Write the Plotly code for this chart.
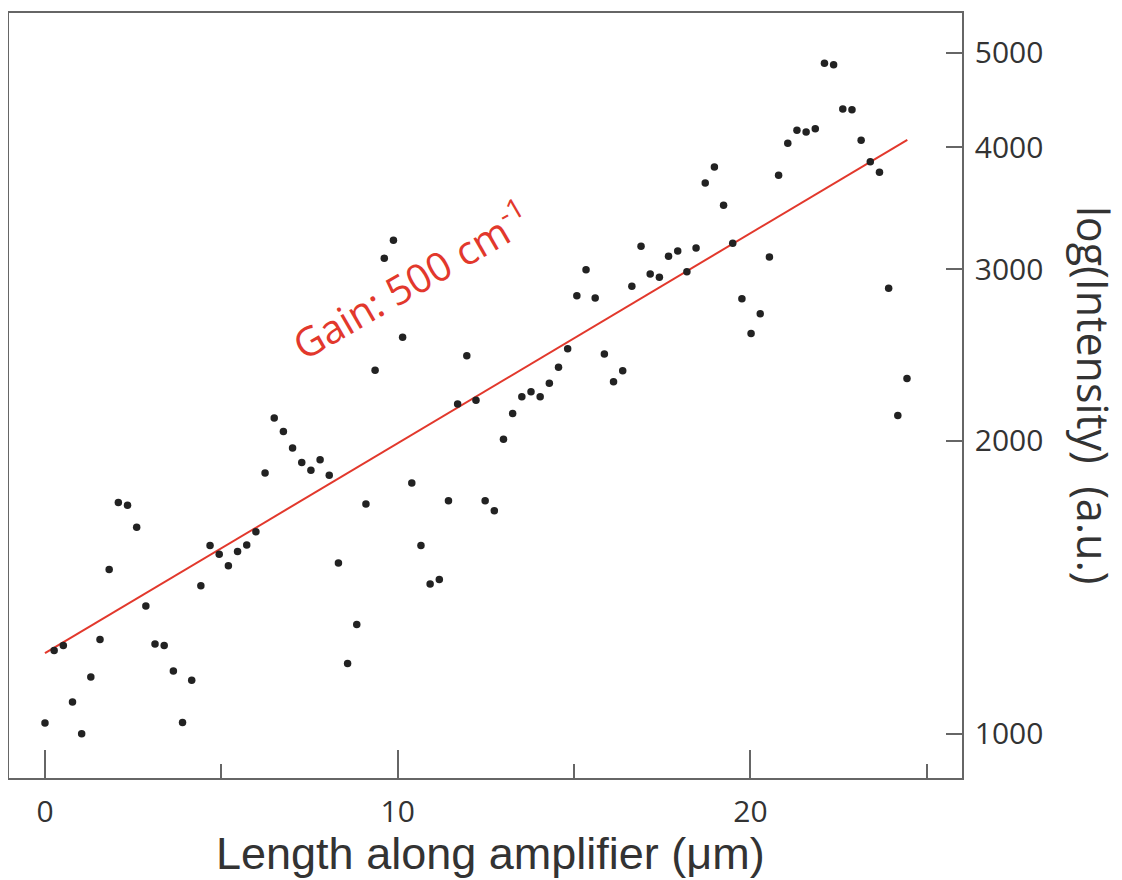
import plotly.graph_objects as go

# Position along amplifier (µm)
length_um = [0.00, 0.26, 0.52, 0.78, 1.04, 1.30, 1.56, 1.82, 2.08, 2.34,
             2.60, 2.86, 3.12, 3.38, 3.64, 3.90, 4.16, 4.42, 4.68, 4.94,
             5.20, 5.46, 5.72, 5.98, 6.24, 6.50, 6.76, 7.02, 7.28, 7.54,
             7.80, 8.06, 8.32, 8.58, 8.84, 9.10, 9.36, 9.62, 9.88, 10.14,
             10.40, 10.66, 10.92, 11.18, 11.44, 11.70, 11.96, 12.22, 12.48, 12.74,
             13.00, 13.26, 13.52, 13.78, 14.04, 14.30, 14.56, 14.82, 15.08, 15.34,
             15.60, 15.86, 16.12, 16.38, 16.64, 16.90, 17.16, 17.42, 17.68, 17.94,
             18.20, 18.46, 18.72, 18.98, 19.24, 19.50, 19.76, 20.02, 20.28, 20.54,
             20.80, 21.06, 21.32, 21.58, 21.84, 22.10, 22.36, 22.62, 22.88, 23.14,
             23.40, 23.66, 23.92, 24.18, 24.44]

# Intensity (a.u.)
intensity = [1026, 1218, 1232, 1078, 1000, 1144, 1250, 1475, 1728, 1717,
             1630, 1353, 1237, 1232, 1160, 1027, 1135, 1419, 1561, 1529,
             1488, 1539, 1563, 1612, 1853, 2110, 2043, 1966, 1899, 1865,
             1912, 1843, 1498, 1181, 1295, 1722, 2362, 3078, 3212, 2554,
             1809, 1561, 1425, 1440, 1735, 2181, 2444, 2200, 1735, 1695,
             2007, 2132, 2218, 2245, 2218, 2291, 2379, 2485, 2817, 2996,
             2802, 2454, 2298, 2359, 2881, 3166, 2966, 2943, 3092, 3131,
             2982, 3154, 3677, 3819, 3488, 3189, 2797, 2576, 2700, 3087,
             3745, 4040, 4166, 4147, 4179, 4880, 4864, 4381, 4371, 4069,
             3867, 3771, 2867, 2122, 2316]

# Exponential fit (gain 500 cm^-1)
fit_x = [0.0, 24.45]
fit_y = [1210, 4072]

y_ticks = [1000, 2000, 3000, 4000, 5000]
x_ticks = [0, 10, 20]

RED = "#e2382c"
AXIS = "#666666"
TEXT = "#333333"

fig = go.Figure()
fig.add_trace(go.Scatter(x=fit_x, y=fit_y, mode="lines",
                         line=dict(color=RED, width=2), hoverinfo="skip",
                         showlegend=False))
fig.add_trace(go.Scatter(x=length_um, y=intensity, mode="markers",
                         marker=dict(color="#222222", size=7.5),
                         showlegend=False))

# The page body has an 8px default margin, so the figure is sized to fit
# the remaining 1114x872 area.
fig.update_layout(
    width=1114, height=872,
    margin=dict(l=1, r=160, t=5, b=102, autoexpand=False),
    paper_bgcolor="white", plot_bgcolor="white",
    font=dict(family="Open Sans", color=TEXT),
    xaxis=dict(range=[-1.02, 26.0], tickvals=x_ticks, ticks="inside",
               ticklen=28, tickwidth=1.5, tickcolor=AXIS, automargin=False,
               minor=dict(dtick=5, tick0=0, ticks="inside", ticklen=14,
                          tickwidth=1.5, tickcolor=AXIS, showgrid=False),
               showline=True, linecolor=AXIS, linewidth=1.5, mirror=True,
               showgrid=False, zeroline=False,
               tickfont=dict(family="Open Sans", size=30, color=TEXT),
               ticklabelstandoff=6),
    yaxis=dict(type="log", side="right", range=[2.9547, 3.7400],
               tickvals=y_ticks, ticktext=[str(v) for v in y_ticks],
               ticks="inside", ticklen=16, tickwidth=1.5, tickcolor=AXIS,
               automargin=False,
               showline=True, linecolor=AXIS, linewidth=1.5, mirror=True,
               showgrid=False, zeroline=False,
               tickfont=dict(family="Open Sans", size=30, color=TEXT),
               ticklabelstandoff=5),
    annotations=[
        dict(text="Length along amplifier (μm)", xref="paper", yref="paper",
             x=0.5053, y=-0.099, xanchor="center", yanchor="middle",
             showarrow=False,
             font=dict(family="Liberation Sans", size=45, color=TEXT)),
        dict(text="log(Intensity) \u00a0(a.u.)", xref="paper", yref="paper",
             x=1.1375, y=0.5007, xanchor="center", yanchor="middle",
             textangle=90, showarrow=False,
             font=dict(family="Open Sans", size=43, color=TEXT)),
        dict(text="Gain: 500 cm<sup>-1</sup>", xref="paper", yref="paper",
             x=0.4215, y=0.652, xanchor="center", yanchor="middle",
             textangle=-30, showarrow=False,
             font=dict(family="Open Sans", size=40, color=RED)),
    ],
)

fig.write_html("out.html")
